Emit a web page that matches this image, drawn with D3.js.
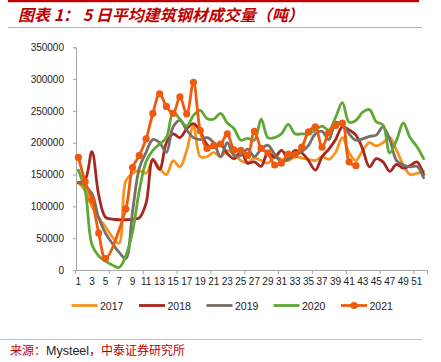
<!DOCTYPE html>
<html>
<head>
<meta charset="utf-8">
<script src="https://cdn.jsdelivr.net/npm/d3@7"></script>
<style>
html,body{margin:0;padding:0;background:#fff;}
svg{display:block;}
</style>
</head>
<body>
<svg id="chart" width="441" height="362"></svg>
<script>
const weeks = d3.range(1, 53);
const xTickLabels = d3.range(1, 52, 2);
const yTickValues = [0, 50000, 100000, 150000, 200000, 250000, 300000, 350000];
const seriesNames = ["2017", "2018", "2019", "2020", "2021"];
const seriesColors = ["#F7941D", "#A8261F", "#776E66", "#5EA833", "#F05A0E"];

const v2017 = [137000,125000,100000,82000,68000,52000,42000,140000,152000,156000,
  152000,172000,160000,150000,172000,162000,188000,226000,178000,178000,
  185000,178000,188000,182000,172000,168000,176000,172000,168000,178000,
  174000,172000,178000,176000,174000,172000,178000,174000,185000,208000,
  184000,172000,188000,200000,195000,200000,208000,188000,165000,150000,
  152000,155000];
const v2018 = [137000,142000,186000,118000,83000,80000,79000,79000,80000,82000,
  105000,174000,158000,200000,214000,208000,222000,230000,218000,197000,
  192000,198000,183000,175000,186000,168000,170000,163000,185000,177000,
  188000,176000,188000,184000,172000,157000,178000,190000,205000,225000,
  220000,212000,190000,162000,175000,170000,155000,166000,160000,164000,
  170000,150000];
const v2019 = [138000,132000,120000,82000,58000,42000,28000,18000,92000,160000,
  185000,205000,200000,185000,225000,235000,220000,208000,205000,208000,
  200000,178000,200000,180000,180000,190000,178000,190000,196000,182000,
  170000,174000,180000,186000,196000,214000,218000,205000,232000,228000,
  214000,204000,206000,210000,212000,225000,205000,172000,165000,162000,
  163000,145000];
const v2020 = [157000,125000,40000,22000,14000,8000,4000,22000,60000,125000,
  170000,188000,198000,208000,248000,237000,226000,243000,251000,238000,
  237000,246000,231000,222000,204000,207000,204000,237000,208000,208000,
  214000,229000,214000,214000,214000,220000,226000,220000,240000,263000,
  232000,235000,248000,252000,233000,228000,184000,204000,231000,208000,
  194000,175000];
const v2021 = [177000,139000,110000,58000,18000,null,null,96000,161000,180000,
  206000,246000,277000,257000,246000,272000,245000,295000,219000,191000,
  196000,198000,214000,189000,188000,180000,218000,191000,184000,165000,
  168000,182000,181000,193000,217000,225000,193000,216000,227000,231000,
  170000,164000];

const seriesValues = [v2017, v2018, v2019, v2020, v2021];

const svg = d3.select("#chart");
const pLeft = 75, pRight = 427, pTop = 47.3, pBottom = 270;

const x = d3.scaleBand().domain(weeks).range([pLeft, pRight]).padding(0);
const xb = d3.scaleLinear().domain([0, 52]).range([pLeft, pRight]);
const y = d3.scaleLinear().domain([0, 350000]).range([pBottom, pTop]);
const cx = w => x(w) + x.bandwidth() / 2;

// Title
svg.append("rect").attr("x", 8).attr("y", 0).attr("width", 411).attr("height", 2.2).attr("fill", "#C00000");
svg.append("text").attr("x", 18).attr("y", 21)
  .attr("font-family", "'Noto Sans CJK SC', sans-serif")
  .attr("font-size", 16).attr("font-weight", "bold").attr("font-style", "italic")
  .attr("fill", "#C00000")
  .text("图表 1： 5 日平均建筑钢材成交量（吨）");
svg.append("rect").attr("x", 8).attr("y", 27).attr("width", 414).attr("height", 1).attr("fill", "#E8A0A0");

// Axes
const yAxis = d3.axisLeft(y).tickValues(yTickValues).tickSize(3).tickPadding(9).tickFormat(d3.format("d"));
const gy = svg.append("g").attr("transform", `translate(${pLeft + 1},0)`).call(yAxis);
gy.select(".domain").attr("stroke", "#A6A6A6");
gy.selectAll(".tick line").attr("stroke", "#A6A6A6");
gy.selectAll("text").attr("font-family", "'Liberation Sans', Arial, sans-serif").attr("font-size", 10).attr("fill", "#222");

const xAxisTicks = d3.axisBottom(xb).tickValues(d3.range(0, 51, 5)).tickSize(4).tickFormat("");
const gxt = svg.append("g").attr("transform", `translate(0,${pBottom})`).call(xAxisTicks);
gxt.select(".domain").attr("stroke", "#A6A6A6");
gxt.selectAll(".tick line").attr("stroke", "#A6A6A6");

const xAxis = d3.axisBottom(x).tickValues(xTickLabels).tickSize(0).tickPadding(8);
const gx = svg.append("g").attr("transform", `translate(0,${pBottom})`).call(xAxis);
gx.select(".domain").remove();
gx.selectAll("text").attr("font-family", "'Liberation Sans', Arial, sans-serif").attr("font-size", 10).attr("fill", "#222");

// Lines
const line = d3.line()
  .x(d => cx(d.w))
  .y(d => y(d.v))
  .curve(d3.curveCatmullRom.alpha(0.5));

seriesValues.forEach((vals, i) => {
  const pts = vals.map((v, j) => ({ w: weeks[j], v })).filter(d => d.v != null);
  svg.append("path").datum(pts)
    .attr("d", line)
    .attr("fill", "none")
    .attr("stroke", seriesColors[i])
    .attr("stroke-width", 2.8)
    .attr("stroke-linejoin", "round")
    .attr("stroke-linecap", "round");
  if (seriesNames[i] === "2021") {
    svg.append("g").selectAll("circle").data(pts).join("circle")
      .attr("cx", d => cx(d.w)).attr("cy", d => y(d.v)).attr("r", 3.6)
      .attr("fill", seriesColors[i]);
  }
});

// Legend
const legendX = [71.5, 139, 206.5, 273.5, 341];
const legY = 305.5;
seriesNames.forEach((n, i) => {
  const g = svg.append("g");
  g.append("line").attr("x1", legendX[i]).attr("x2", legendX[i] + 26)
    .attr("y1", legY).attr("y2", legY).attr("stroke", seriesColors[i]).attr("stroke-width", 2.8);
  if (n === "2021") {
    g.append("circle").attr("cx", legendX[i] + 13).attr("cy", legY).attr("r", 3.6).attr("fill", seriesColors[i]);
  }
  g.append("text").attr("x", legendX[i] + 28.5).attr("y", legY + 4)
    .attr("font-family", "'Liberation Sans', Arial, sans-serif").attr("font-size", 10.5).attr("fill", "#222")
    .text(n);
});

// Source
svg.append("rect").attr("x", 0).attr("y", 339).attr("width", 422).attr("height", 1).attr("fill", "#F0B0B0");
const src = svg.append("text").attr("x", 10).attr("y", 355)
  .attr("font-family", "'Noto Sans CJK SC', sans-serif").attr("font-size", 12);
src.append("tspan").attr("fill", "#C00000").text("来源：");
src.append("tspan").attr("fill", "#222").attr("font-family", "'Liberation Sans', Arial, sans-serif").attr("font-size", 12.5).text("Mysteel");
src.append("tspan").attr("fill", "#C00000").text("，中泰证券研究所");
</script>
</body>
</html>
